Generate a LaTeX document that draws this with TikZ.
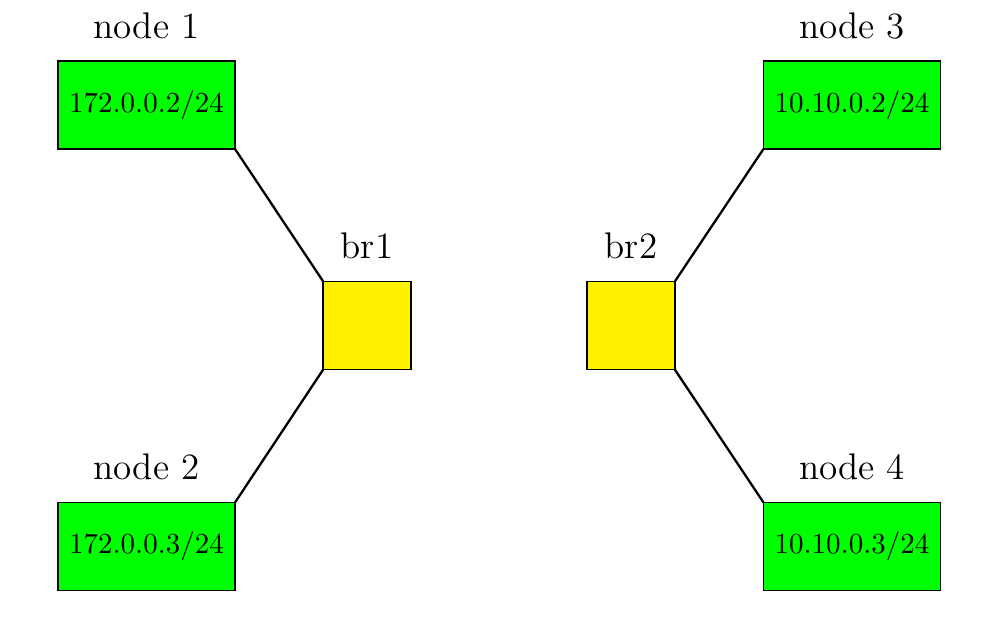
\documentclass[tikz,border=0pt]{standalone}
\begin{document}
\begin{tikzpicture}[x=0.348pt,y=-0.348pt,
  host/.style={draw=black,line width=0.4pt,fill=green,minimum width=61.6pt,minimum height=30.6pt,inner sep=0pt,outer sep=0pt,font=\fontsize{10.1}{12}\selectfont},
  bridge/.style={draw=black,line width=0.4pt,fill=yellow,minimum width=30.6pt,minimum height=30.8pt,inner sep=0pt,outer sep=0pt},
  tag/.style={anchor=base,inner sep=0pt,font=\fontsize{12.9}{15}\selectfont},
  link/.style={line width=0.8pt}]
  \useasboundingbox (0,0) rectangle (988,638);

  % end hosts
  \node[host] (n1) at (146.5,105) {172.0.0.2/24};
  \node[host] (n2) at (146.5,546.5) {172.0.0.3/24};
  \node[host] (n3) at (852,105) {10.10.0.2/24};
  \node[host] (n4) at (852,546.5) {10.10.0.3/24};

  % bridges
  \node[bridge] (b1) at (367,325.5) {};
  \node[bridge] (b2) at (631,325.5) {};

  % captions
  \node[tag] (t1) at (146.5,38) {node 1};
  \node[tag] (t2) at (146.5,479) {node 2};
  \node[tag] (t3) at (852,38) {node 3};
  \node[tag] (t4) at (852,479) {node 4};
  \node[tag] (tb1) at (367,258) {br1};
  \node[tag] (tb2) at (631,258) {br2};

  % links
  \draw[link] (n1.south east) -- (b1.north west);
  \draw[link] (n2.north east) -- (b1.south west);
  \draw[link] (b2.north east) -- (n3.south west);
  \draw[link] (b2.south east) -- (n4.north west);
\end{tikzpicture}
\end{document}
